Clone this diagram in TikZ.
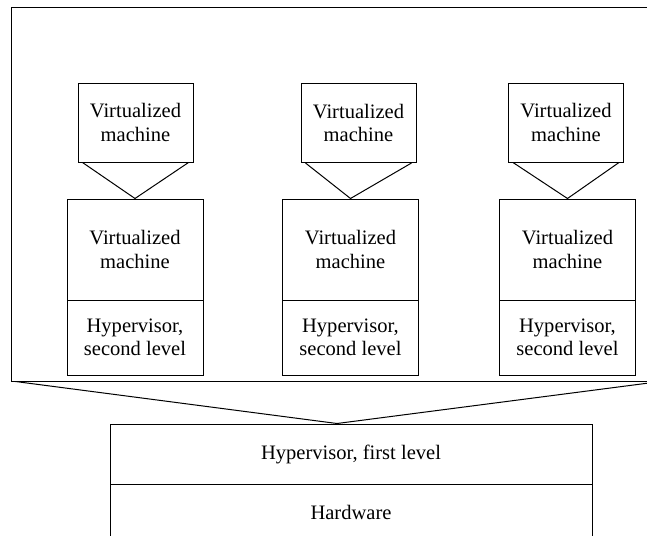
\documentclass[tikz,border=0pt]{standalone}
\usepackage{fontspec}
\setmainfont{Liberation Serif}
\newfontfamily\diagfont{Liberation Serif}
\usetikzlibrary{calc}
\begin{document}
\begin{tikzpicture}[x=0.75pt, y=-0.75pt, line width=0.75pt,
  lbl/.style={font=\diagfont\fontsize{15.4}{17.3}\selectfont, align=center},
  box/.style={draw, rectangle, inner sep=0pt, lbl},
  vmtop/.style={box, minimum width=115*0.75pt, minimum height=79*0.75pt},
  vmlow/.style={box, minimum width=136*0.75pt, minimum height=101*0.75pt},
  hyptwo/.style={box, minimum width=136*0.75pt, minimum height=75*0.75pt},
  wide/.style={box, minimum width=482*0.75pt},
]
\useasboundingbox (0,0) rectangle (647,536);
\clip (0,0) rectangle (647,536);

% enclosing frame of the first-level guest area (open to the right)
\node[draw, rectangle, inner sep=0pt, minimum width=649*0.75pt, minimum height=374*0.75pt] (frame) at (335.5,194) {};

% nested virtual machines, one column each
\node[vmtop] (top1) at (135.5,122.5) {Virtualized\\machine};
\node[vmlow] (mid1) at (135,249.5) {Virtualized\\machine};
\node[hyptwo] (hyp1) at (135,337.5) {Hypervisor,\\second level};

\node[vmtop] (top2) at (358.5,123) {Virtualized\\machine};
\node[vmlow] (mid2) at (350.5,249.5) {Virtualized\\machine};
\node[hyptwo] (hyp2) at (350.5,337.5) {Hypervisor,\\second level};

\node[vmtop] (top3) at (566,122.5) {Virtualized\\machine};
\node[vmlow] (mid3) at (567.5,249.5) {Virtualized\\machine};
\node[hyptwo] (hyp3) at (567.5,337.5) {Hypervisor,\\second level};

% host stack
\node[wide, minimum height=60*0.75pt] (hv) at (351,454) {Hypervisor, first level};
\node[wide, minimum height=56*0.75pt] (hw) at (351,512) {Hardware};

% funnels from each guest down to its host
\foreach \i in {1,2,3}{
  \draw ($(top\i.south west)+(5,0)$) -- (mid\i.north) -- ($(top\i.south east)+(-5,0)$);
}
\coordinate (apex) at ($(hv.north)+(-14,0)$);
\draw ($(frame.south west)+(5,0)$) -- (apex) -- (frame.south east);
\end{tikzpicture}
\end{document}
